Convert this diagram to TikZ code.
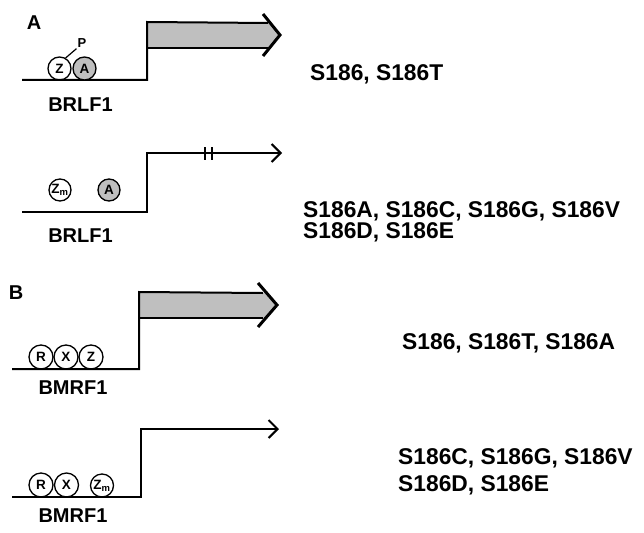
\documentclass[tikz,border=0pt]{standalone}
\usepackage{fontspec}
\setmainfont{Liberation Sans}
\usetikzlibrary{arrows.meta,positioning}

\begin{document}
\begin{tikzpicture}[x = 1pt, y = -1pt,
  dna/.style = {line width = 2pt},
  site/.style = {circle, draw, line width = 1.3pt, minimum size = 23pt, inner sep = 0pt,
    font = \fontsize{13.5}{13.5}\selectfont\bfseries},
  act/.style = {site, fill = black!25},
  gene/.style = {inner sep = 0pt, font = \fontsize{20}{20}\selectfont\bfseries},
  mut/.style = {anchor = west, align = left, inner sep = 0pt,
    font = \fontsize{22.8}{21}\selectfont\bfseries},
  panel/.style = {inner sep = 0pt, font = \fontsize{20}{20}\selectfont\bfseries},
  head/.style = {line width = 3pt, line join = miter},
  barb/.style = {dna, -{Straight Barb[length = 9pt, width = 18pt, line width = 2pt]}}
]
  \useasboundingbox (0,0) rectangle (644,532);

  % panel A, wild type Z and A sites
  \node[panel] (labA) at (34,23) {A};
  \fill[black!25] (147,23) -- (270,23) -- (280,35) -- (270,48) -- (147,48) -- cycle;
  \draw[dna] (22,80) -- (147,80) -- (147,22) -- (268,23);
  \draw[dna] (147,48) -- (268,48);
  \draw[head] (263,14) -- (280,35) -- (263,56);
  \node[site] (Za) at (59.5,68.5) {Z};
  \node[act] (Aa) at (84.5,68.5) {A};
  \node[inner sep = 1pt, font = \fontsize{13}{13}\selectfont\bfseries] (Pa) at (82,43) {P};
  \draw[line width = 1.2pt] (Za.60) -- (Pa.south west);
  \node[gene] (BRLFa) at (80.5,105) {BRLF1};
  \node[mut] (mutAa) at (310,74) {S186, S186T};

  % panel A, mutant Z site
  \draw[barb] (22,212) -- (147,212) -- (147,153) -- (282,153);
  \draw[line width = 1.5pt] (205,147) -- (205,160) (212,147) -- (212,160);
  \node[site, minimum size = 22pt] (Zmb) at (60,190) {Z\textsubscript{m}};
  \node[act, minimum size = 22pt] (Ab) at (109,190) {A};
  \node[gene] (BRLFb) at (80.5,236) {BRLF1};
  \node[mut] (mutAb) at (303,221.5) {S186A, S186C, S186G, S186V\\S186D, S186E};

  % panel B, wild type Z site
  \node[panel] (labB) at (16,293) {B};
  \fill[black!25] (139,293) -- (265,293) -- (277,305) -- (265,318) -- (139,318) -- cycle;
  \draw[dna] (12,369) -- (139,369) -- (139,292) -- (263,293);
  \draw[dna] (139,318) -- (263,318);
  \draw[head] (258,283) -- (277,305) -- (258,327);
  \node[site, minimum size = 24pt] (Rc) at (41,357) {R};
  \node[site, minimum size = 24pt] (Xc) at (66,357) {X};
  \node[site, minimum size = 24pt] (Zc) at (91,357) {Z};
  \node[gene] (BMRFc) at (73,388) {BMRF1};
  \node[mut] (mutBc) at (402,343) {S186, S186T, S186A};

  % panel B, mutant Z site
  \draw[barb] (12,497) -- (141,497) -- (141,429) -- (279,429);
  \node[site, minimum size = 24pt] (Rd) at (41,485) {R};
  \node[site, minimum size = 24pt] (Xd) at (66.5,485) {X};
  \node[site, minimum size = 23pt] (Zmd) at (102,485.5) {Z\textsubscript{m}};
  \node[gene] (BMRFd) at (73,516) {BMRF1};
  \node[mut, font = \fontsize{22.8}{27}\selectfont\bfseries] (mutBd) at (398,472) {S186C, S186G, S186V\\S186D, S186E};
\end{tikzpicture}
\end{document}
